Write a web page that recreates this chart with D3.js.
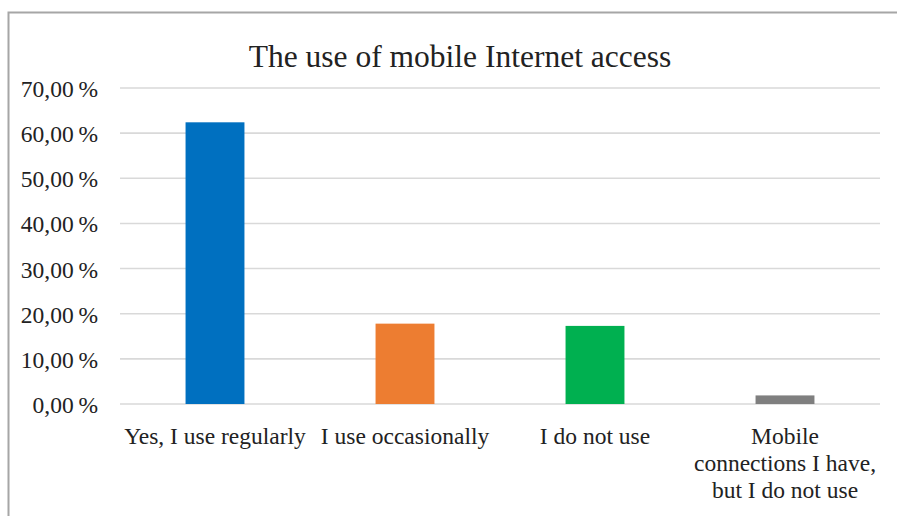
<!DOCTYPE html>
<html>
<head>
<meta charset="utf-8">
<script src="https://cdn.jsdelivr.net/npm/d3@7"></script>
<style>
  body { margin: 0; background: #fff; }
  text { font-family: "Liberation Serif", "Times New Roman", serif; fill: #222; }
</style>
</head>
<body>
<div id="chart"></div>
<script>
const categories = ["Yes, I use regularly", "I use occasionally", "I do not use", "Mobile connections I have, but I do not use"];
const labelLines = [["Yes, I use regularly"], ["I use occasionally"], ["I do not use"], ["Mobile", "connections I have,", "but I do not use"]];
const values = [62.4, 17.8, 17.3, 1.9];
const colors = ["#0070c0", "#ed7d31", "#00b050", "#7f7f7f"];
const yTicks = [0, 10, 20, 30, 40, 50, 60, 70];

const W = 897, H = 516;
const margin = { top: 88, right: 17, bottom: 112, left: 120 };
const width = W - margin.left - margin.right;
const height = H - margin.top - margin.bottom;

const svg = d3.select("#chart").append("svg")
  .attr("width", W).attr("height", H);

// outer chart frame
svg.append("path")
  .attr("d", `M8.5,${H} V12.5 H${W}`)
  .attr("fill", "none").attr("stroke", "#a6a6a6").attr("stroke-width", 2);

svg.append("text")
  .attr("x", 460).attr("y", 67)
  .attr("text-anchor", "middle")
  .style("font-size", "31.5px")
  .text("The use of mobile Internet access");

const g = svg.append("g").attr("transform", `translate(${margin.left},${margin.top})`);

const x = d3.scaleBand().domain(categories).range([0, width]).paddingInner(0.69).paddingOuter(0.345);
const y = d3.scaleLinear().domain([0, 70]).range([height, 0]);

g.append("g").selectAll("line").data(yTicks).join("line")
  .attr("x1", 0).attr("x2", width)
  .attr("y1", d => y(d)).attr("y2", d => y(d))
  .attr("stroke", "#d9d9d9").attr("stroke-width", 1.6);

g.append("g").selectAll("text").data(yTicks).join("text")
  .attr("x", -22).attr("y", d => y(d) + 9)
  .attr("text-anchor", "end")
  .style("font-size", "23.5px")
  .text(d => d3.format(".2f")(d).replace(".", ",") + "\u2009%");

g.append("g").selectAll("rect").data(values).join("rect")
  .attr("x", (d, i) => x(categories[i]))
  .attr("y", d => y(d))
  .attr("width", x.bandwidth())
  .attr("height", d => height - y(d))
  .attr("fill", (d, i) => colors[i]);

const lab = g.append("g").selectAll("text").data(labelLines).join("text")
  .attr("text-anchor", "middle")
  .style("font-size", "23.5px")
  .attr("transform", (d, i) => `translate(${x(categories[i]) + x.bandwidth() / 2},${height + 40})`);
lab.selectAll("tspan").data(d => d).join("tspan")
  .attr("x", 0).attr("dy", (d, i) => i === 0 ? 0 : 27)
  .text(d => d);
</script>
</body>
</html>
